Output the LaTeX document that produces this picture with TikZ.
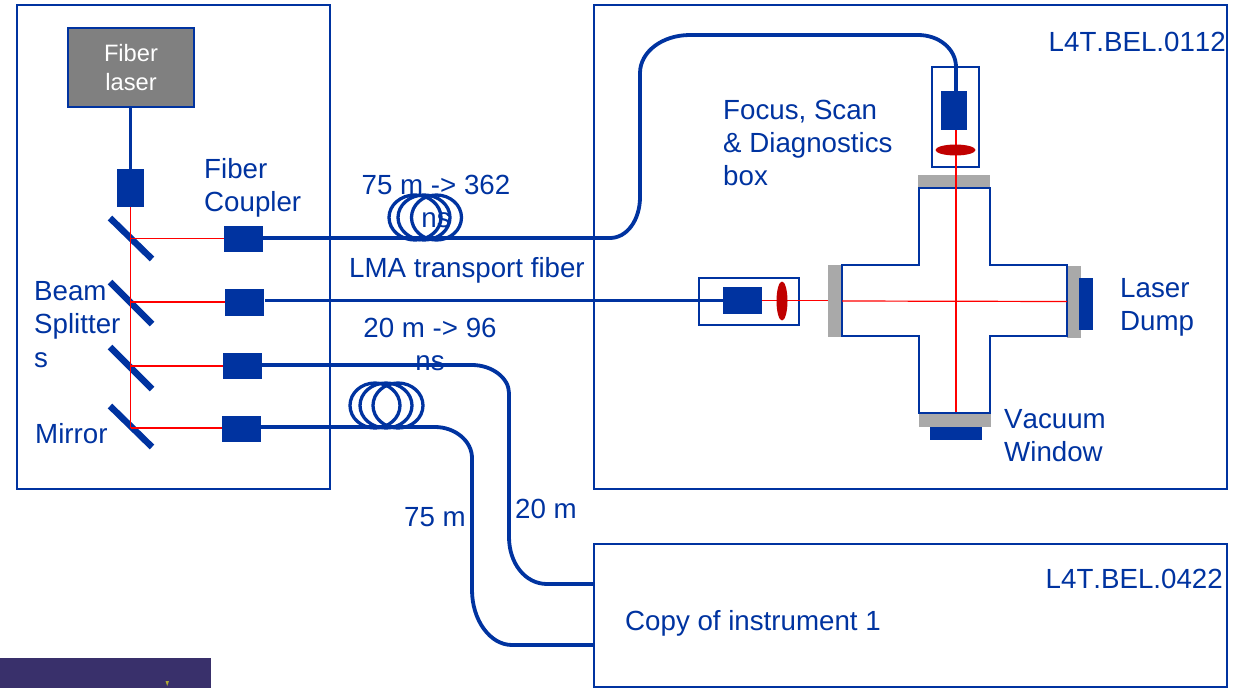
\documentclass[tikz,border=0pt]{standalone}
\usepackage{fontspec}
\usetikzlibrary{shapes.geometric}
\setmainfont[Kerning=Off]{Liberation Sans}
\definecolor{lblue}{HTML}{0033A0}
\definecolor{lred}{HTML}{FF0000}
\definecolor{lens}{HTML}{C00000}
\definecolor{plate}{HTML}{A9A9A9}
\definecolor{dgray}{HTML}{808080}
\definecolor{corner}{HTML}{39306B}
\tikzset{
  frame/.style={draw=lblue,line width=2.5pt,fill=none},
  blockbox/.style={fill=lblue,draw=none,inner sep=0pt,minimum width=#1},
  blockh/.style={minimum height=#1},
  fiber/.style={draw=lblue,line width=3.8pt},
  beam/.style={draw=lred,line width=1.2pt},
  mirror/.style={draw=lblue,line width=6.5pt},
  coil/.style={draw=lblue,line width=3.3pt},
  plateg/.style={fill=plate,draw=none},
  lensr/.style={fill=lens,draw=none},
  lab/.style={text=lblue,inner sep=0pt,font=\fontsize{27.7}{33.2}\selectfont,align=left},
}
\begin{document}
\begin{tikzpicture}[x=1pt,y=-1pt]
\useasboundingbox (0,0) rectangle (1250,688);
% corner logo strip
\fill[corner] (0,658) rectangle (211,688);
\fill[olive!70!white] (165.5,681) -- (169,681) -- (167.2,686) -- cycle;
% frames
\node[frame,inner sep=0pt,minimum width=313pt,minimum height=484pt] (left) at (173.5,247) {};
\node[frame,inner sep=0pt,minimum width=633pt,minimum height=484pt] (right) at (910.5,247) {};
\node[frame,inner sep=0pt,minimum width=633pt,minimum height=143pt] (lower) at (910.5,615.5) {};
\coordinate (inst) at (594,584);
\coordinate (instb) at (594,645);
% laser
\node[frame,fill=dgray,inner sep=0pt,minimum width=126pt,minimum height=79pt,text=white,align=center,font=\fontsize{23.7}{29}\selectfont] (laser) at (131,67.5) {Fiber\\laser};
\node[blockbox=27pt,blockh=38pt] (head) at (130.5,188) {};
\draw[fiber] (laser.south -| head.north) -- (head.north);
% beams under mirrors
\coordinate (m1) at (130.5,238.5);
\coordinate (m2) at (130.5,302);
\coordinate (m3) at (130.5,366);
\coordinate (m4) at (130.5,428);
% mirrors
\draw[mirror] (110,218) -- (152,259);
\draw[mirror] (110,282) -- (152,324);
\draw[mirror] (110,347) -- (152,389);
\draw[mirror] (110,406) -- (152,447);
% couplers
\node[blockbox=39pt,blockh=26.5pt] (c1) at (243.5,239) {};
\node[blockbox=39pt,blockh=26.5pt] (c2) at (244.5,302.5) {};
\node[blockbox=39pt,blockh=26.5pt] (c3) at (242.5,366) {};
\node[blockbox=39pt,blockh=26.5pt] (c4) at (241.5,429) {};
\draw[beam] (head.south) -- (m4);
\draw[beam] (m1) -- (m1 -| c1.west);
\draw[beam] (m2) -- (m2 -| c2.west);
\draw[beam] (m3) -- (m3 -| c3.west);
\draw[beam] (m4) -- (m4 -| c4.west);
% coils
\draw[coil] (415,217.5) ellipse (26 and 22.5);
\draw[coil] (424,217.5) ellipse (26 and 22.5);
\draw[coil] (436.5,217.5) ellipse (25 and 22.5);
\draw[coil] (375,405.5) ellipse (25 and 22.5);
\draw[coil] (386,405.5) ellipse (26 and 22.5);
\draw[coil] (398,405.5) ellipse (25 and 22.5);
% instrument optics
\node[frame,inner sep=0pt,minimum width=47pt,minimum height=100pt] (scanbox) at (955.5,117) {};
\node[blockbox=26pt,blockh=39pt] (scanblock) at (954,110.5) {};
\node[frame,inner sep=0pt,minimum width=100pt,minimum height=47pt] (inbox) at (749,301.5) {};
\node[blockbox=39pt,blockh=27pt] (inblock) at (742.5,300.5) {};
% chamber
\node[plateg,inner sep=0pt,minimum width=72pt,minimum height=13pt] (ptop) at (954,181.5) {};
\node[plateg,inner sep=0pt,minimum width=14pt,minimum height=72pt] (pleft) at (835,301) {};
\node[plateg,inner sep=0pt,minimum width=14pt,minimum height=72pt] (pright) at (1074,302) {};
\node[plateg,inner sep=0pt,minimum width=72pt,minimum height=14pt] (pbot) at (955,420) {};
\node[blockbox=14pt,blockh=52pt] (dumpr) at (1086,304) {};
\node[blockbox=52pt,blockh=12.5pt] (dumpb) at (956,433.3) {};
\draw[frame,line join=miter,fill=white] (842,265) -- (919,265) -- (919,188) -- (990,188) -- (990,265) -- (1067,265) -- (1067,336) -- (990,336) -- (990,413) -- (919,413) -- (919,336) -- (842,336) -- cycle;
% beams in chamber
\coordinate (bv) at (956,130);
\coordinate (bve) at (956,412);
\coordinate (bh) at (842,301);
\coordinate (bhe) at (1067,301.5);
\draw[beam] (bv) -- (bve);
\draw[beam] (inblock.east) -- (pleft.west |- inblock.east);
\draw[beam] (bh) -- (bhe);
\node[lensr,ellipse,inner sep=0pt,minimum width=40pt,minimum height=11pt] (lensa) at (955.5,150) {};
\node[lensr,ellipse,inner sep=0pt,minimum width=11pt,minimum height=39pt] (lensb) at (782,301) {};
% fibers
\draw[fiber] (c1.east) ++(0,-1) -- (610,238) .. controls (627,238) and (640,220) .. (640,197) -- (640,73) .. controls (640,52) and (662,35) .. (690,35) -- (918,35) .. controls (939,35) and (956,49) .. (956,67) -- (scanblock.north -| 956,67);
\draw[fiber] (c2.east)+(1,-2) -- (inblock.west);
\draw[fiber] (c3.east)+(0,-1) -- (472,365) .. controls (492,365) and (509,378) .. (509,393) -- (509,537) .. controls (509,563) and (525,584) .. (547,584) -- (inst);
\draw[fiber] (c4.east)+(0,-2) -- (435,427) .. controls (455,427) and (472,441) .. (472,458) -- (472,590) .. controls (472,620) and (490,645) .. (512,645) -- (instb);
% labels
\node[lab,anchor=north west] (t1) at (204,158.5) {Fiber\\Coupler};
\node[lab,anchor=north west] (t2) at (34,281.5) {Beam\\Splitter\\s};
\node[lab,anchor=north west] (t3) at (35,423.5) {Mirror};
\node[lab,anchor=north,align=center] (t4) at (436,174.5) {75 m -> 362\\ns};
\node[lab,anchor=north west] (t5) at (349,257.5) {LMA transport fiber};
\node[lab,anchor=north,align=center] (t6) at (430,317.5) {20 m -> 96\\ns};
\node[lab,anchor=north west] (t7) at (723,99.5) {Focus, Scan\\\& Diagnostics\\box};
\node[lab,anchor=north east] (t8) at (1226,31.5) {L4T.BEL.0112};
\node[lab,anchor=north west] (t9) at (1120,278.5) {Laser\\Dump};
\node[lab,anchor=north west] (t10) at (1004,409.5) {Vacuum\\Window};
\node[lab,anchor=north east] (t11) at (1223,568.5) {L4T.BEL.0422};
\node[lab,anchor=north west] (t12) at (625,610.5) {Copy of instrument 1};
\node[lab,anchor=north west] (t13) at (404,507.5) {75 m};
\node[lab,anchor=north west] (t14) at (515,498.5) {20 m};
\end{tikzpicture}
\end{document}
